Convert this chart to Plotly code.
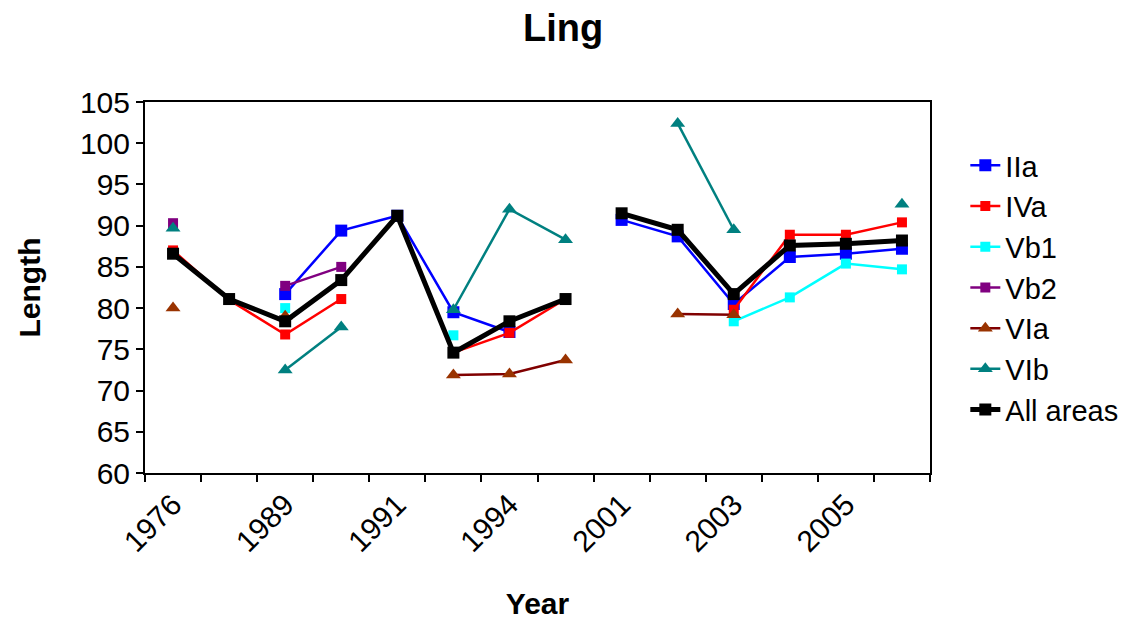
import plotly.graph_objects as go

# Survey years (one category per year); the sampling gap falls between 1995 and 2001
years = ["1976", "1988", "1989", "1990", "1991", "1993", "1994",
         "1995", "2001", "2002", "2003", "2004", "2005", "2006"]
gap_index = 8

# Mean length by area
IIa = [None, None, 81.7, 89.4, 91.2, 79.5, 77.1, None,
       90.7, 88.7, 80.5, 86.2, 86.6, 87.2]
IVa = [87.0, 81.0, 76.8, 81.1, None, 74.6, 77.0, 81.1,
       None, None, 79.8, 88.9, 88.9, 90.4]
Vb1 = [None, None, 80.0, None, None, 76.7, None, None,
       None, None, 78.4, 81.3, 85.4, 84.7]
Vb2 = [90.3, None, 82.7, 85.0, None, None, None, None,
       None, None, None, None, None, None]
VIa = [80.0, None, 79.0, None, None, 71.9, 72.0, 73.7,
       None, 79.3, 79.2, None, None, None]
VIb = [89.7, None, 72.5, 77.7, None, 79.8, 92.0, 88.3,
       None, 102.4, 89.5, None, None, 92.6]
All_areas = [86.6, 81.1, 78.4, 83.4, 91.2, 74.6, 78.4, 81.1,
             91.5, 89.5, 81.7, 87.6, 87.8, 88.2]

series = [
    ("IIa", IIa, dict(line="#0000FF", marker="#0000FF", symbol="square", size=12, width=2.5)),
    ("IVa", IVa, dict(line="#FF0000", marker="#FF0000", symbol="square", size=10, width=2.5)),
    ("Vb1", Vb1, dict(line="#00FFFF", marker="#00FFFF", symbol="square", size=10, width=2.5)),
    ("Vb2", Vb2, dict(line="#800080", marker="#800080", symbol="square", size=10, width=2.5)),
    ("VIa", VIa, dict(line="#800000", marker="#993300", symbol="triangle-up", size=13, width=2.5)),
    ("VIb", VIb, dict(line="#008080", marker="#008080", symbol="triangle-up", size=13, width=2.5)),
    ("All areas", All_areas, dict(line="#000000", marker="#000000", symbol="square", size=12, width=5)),
]

font_family = "Liberation Sans, Arial, sans-serif"
positions = list(range(len(years)))

fig = go.Figure()
for name, values, st in series:
    # two segments so the line does not bridge the gap in survey years
    for k, (a, b) in enumerate([(0, gap_index), (gap_index, len(years))]):
        fig.add_trace(go.Scatter(
            x=positions[a:b], y=values[a:b], name=name, legendgroup=name,
            showlegend=(k == 0), mode="lines+markers", connectgaps=False,
            line=dict(color=st["line"], width=st["width"]),
            marker=dict(color=st["marker"], symbol=st["symbol"], size=st["size"],
                        line=dict(width=0)),
        ))

boundaries = [i - 0.5 for i in range(len(years) + 1)]

fig.update_layout(
    width=1147, height=622,
    margin=dict(l=145, r=217, t=102, b=149),
    paper_bgcolor="white", plot_bgcolor="white",
    font=dict(family=font_family, size=30, color="black"),
    title=dict(text="<b>Ling</b>", font=dict(size=38, family=font_family, color="black"),
               x=0.491, xref="container", xanchor="center",
               y=0.955, yref="container", yanchor="middle"),
    legend=dict(x=1.045, xanchor="left", y=0.5, yanchor="middle",
                font=dict(size=29, family=font_family, color="black"),
                bgcolor="rgba(0,0,0,0)", tracegroupgap=0),
    showlegend=True,
)

fig.update_xaxes(
    range=[-0.5, len(years) - 0.5], automargin=False,
    tickmode="array", tickvals=positions[::2], ticktext=years[::2],
    tickangle=-45, ticks="", tickfont=dict(size=30),
    minor=dict(tickmode="array", tickvals=boundaries, ticks="outside",
               ticklen=7, tickwidth=1.5, tickcolor="black"),
    showline=True, linecolor="black", linewidth=2, mirror=True,
    showgrid=False, zeroline=False,
    title=dict(text="<b>Year</b>", font=dict(size=30), standoff=36),
)
fig.update_yaxes(
    range=[60, 105], tickmode="linear", tick0=60, dtick=5, automargin=False,
    ticks="outside", ticklen=7, tickwidth=1.5, tickcolor="black",
    tickfont=dict(size=30),
    showline=True, linecolor="black", linewidth=2, mirror=True,
    showgrid=False, zeroline=False,
    title=dict(text="<b>Length</b>", font=dict(size=30), standoff=30),
)

fig.write_html("out.html")
